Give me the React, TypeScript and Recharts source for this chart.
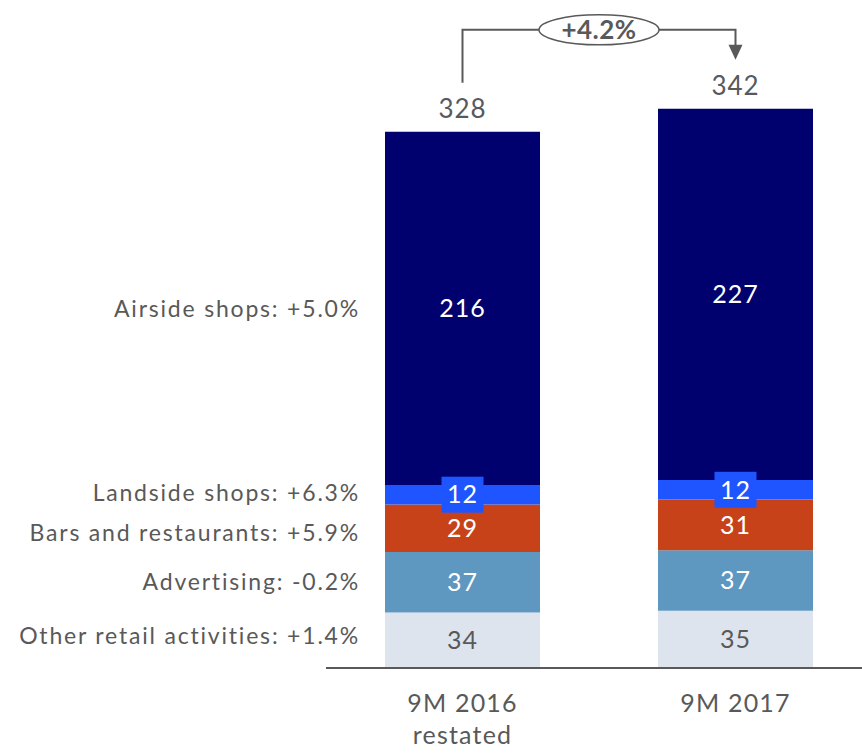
import React from 'react';
import { ComposedChart, Bar, Line, XAxis, YAxis, LabelList } from 'recharts';

const periods = ['9M 2016\nrestated', '9M 2017'];
const otherRetail = [34, 35];
const advertising = [37, 37];
const barsRestaurants = [29, 31];
const landside = [12, 12];
const airside = [216, 227];
const totals = [328, 342];
const growthLabel = '+4.2%';

const SERIES = [
  { key: 'other', name: 'Other retail activities: +1.4%', color: '#dde4ee', text: '#595959', dy: -4 },
  { key: 'adv', name: 'Advertising: -0.2%', color: '#5e97bf', text: '#ffffff', dy: 0 },
  { key: 'bars', name: 'Bars and restaurants: +5.9%', color: '#c84219', text: '#ffffff', dy: 5 },
  { key: 'land', name: 'Landside shops: +6.3%', color: '#1f55ff', text: '#ffffff', dy: -2, boxed: true },
  { key: 'air', name: 'Airside shops: +5.0%', color: '#00006e', text: '#ffffff', dy: 1 },
];

const data = periods.map((p, i) => ({
  name: p,
  other: otherRetail[i],
  adv: advertising[i],
  bars: barsRestaurants[i],
  land: landside[i],
  air: airside[i],
  total: totals[i],
}));

const FONT = 'Lato, "Open Sans", sans-serif';
const GREY = '#595959';

const valueLabel = (s: any) => (props: any) => {
  const { x, y, width, height, value } = props;
  const cx = x + width / 2;
  const cy = y + height / 2;
  return (
    <g>
      {s.boxed && <rect x={cx - 21} y={cy - 18} width={42} height={36} fill={s.color} />}
      <text x={cx} y={cy} dy="0.35em" textAnchor="middle" fill={s.text} fontSize={25} letterSpacing={1} fontFamily={FONT}>
        {value}
      </text>
    </g>
  );
};

const nameLabel = (s: any) => (props: any) => {
  const { x, y, height, index } = props;
  if (index !== 0) return null;
  return (
    <text x={x - 25} y={y + height / 2 + s.dy} dy="0.35em" textAnchor="end" fill={GREY} fontSize={23} letterSpacing={1.8} fontFamily={FONT}>
      {s.name}
    </text>
  );
};

const totalLabel = (props: any) => {
  const { x, y, width, value } = props;
  return (
    <text x={x + width / 2} y={y - 23} dy="0.35em" textAnchor="middle" fill={GREY} fontSize={26} letterSpacing={1} fontFamily={FONT}>
      {value}
    </text>
  );
};

const seen: any[] = [];
const bracket = (props: any) => {
  const { cx, cy, index } = props;
  seen[index] = { x: cx, y: cy };
  const pts = props.points && props.points.length === 2 ? props.points : seen;
  if (index !== 1 || !pts[0] || !pts[1]) return <g key={`b-${index}`} />;
  const x0 = pts[0].x;
  const y0 = pts[0].y;
  const x1 = pts[1].x;
  const y1 = pts[1].y;
  const top = Math.min(y0, y1) - 79;
  const tip = y1 - 49;
  const mid = (x0 + x1) / 2;
  return (
    <g key="bracket">
      <path d={`M${x0},${y0 - 49} V${top} H${x1} V${tip - 14}`} fill="none" stroke={GREY} strokeWidth={2} />
      <path d={`M${x1 - 7},${tip - 15} L${x1 + 7},${tip - 15} L${x1},${tip} Z`} fill={GREY} />
      <ellipse cx={mid} cy={top} rx={60} ry={15} fill="#ffffff" stroke={GREY} strokeWidth={1.5} />
      <text x={mid} y={top} dy="0.36em" textAnchor="middle" fill={GREY} fontSize={26} fontWeight="bold" letterSpacing={0.5} fontFamily={FONT}>
        {growthLabel}
      </text>
    </g>
  );
};

const PeriodTick = (props: any) => {
  const { x, y, payload } = props;
  const lines = String(payload.value).split('\n');
  return (
    <text x={x} y={y} textAnchor="middle" fill={GREY} fontSize={25} letterSpacing={1.2} fontFamily={FONT}>
      {lines.map((l, i) => (
        <tspan key={i} x={x} dy={i === 0 ? 36 : 32}>
          {l}
        </tspan>
      ))}
    </text>
  );
};

export default function App() {
  return (
    <div style={{ position: 'absolute', left: 0, top: 0, width: 862, height: 754, overflow: 'hidden', background: '#fff' }}>
      <ComposedChart width={872} height={754} data={data} margin={{ top: 14, right: 0, bottom: 0, left: 326 }}>
        <XAxis
          dataKey="name"
          height={86}
          tickLine={false}
          axisLine={{ stroke: GREY, strokeWidth: 2 }}
          tick={<PeriodTick />}
          interval={0}
        />
        <YAxis hide domain={[0, 400]} />
        {SERIES.map((s) => (
          <Bar key={s.key} dataKey={s.key} stackId="a" fill={s.color} barSize={155} isAnimationActive={false}>
            <LabelList dataKey={s.key} content={valueLabel(s)} />
            <LabelList dataKey={s.key} content={nameLabel(s)} />
            {s.key === 'air' && <LabelList dataKey="total" content={totalLabel} />}
          </Bar>
        ))}
        <Line
          dataKey="total"
          stroke="none"
          dot={bracket}
          activeDot={false}
          isAnimationActive={false}
        />
      </ComposedChart>
    </div>
  );
}
